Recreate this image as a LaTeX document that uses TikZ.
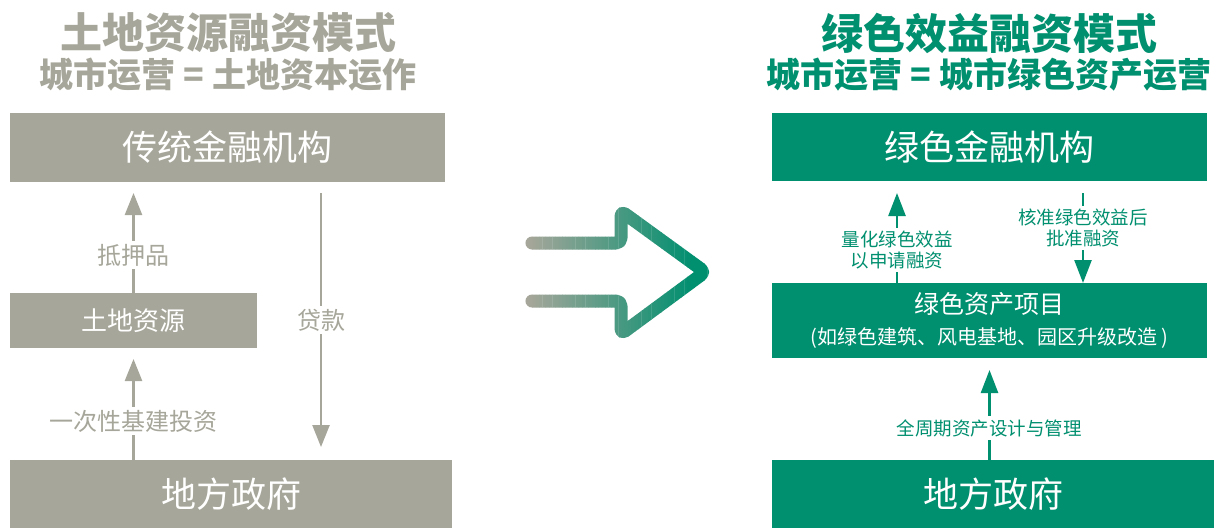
\documentclass[tikz,border=0pt]{standalone}
\usepackage{fontspec}
\setmainfont{Noto Sans CJK SC}
\usetikzlibrary{arrows.meta}
\definecolor{ggray}{RGB}{167,166,154}
\definecolor{ggreen}{RGB}{0,143,111}
\tikzset{
  boxbase/.style={inner sep=0pt, outer sep=0pt, text=white, align=center},
  graybox/.style={boxbase, fill=ggray},
  greenbox/.style={boxbase, fill=ggreen},
  garr/.style={draw=ggray, line width=2.5pt, -{Triangle[width=17pt,length=22pt]}},
  earr/.style={draw=ggreen, line width=2.5pt, -{Triangle[width=17pt,length=23pt]}},
  glabel/.style={fill=white, text=ggray, inner sep=3pt, font=\fontsize{24}{28}\selectfont},
  elabel/.style={fill=white, text=ggreen, inner sep=3pt, align=center, font=\fontsize{18.5}{21.5}\selectfont},
  bigarrow/.style={line width=13pt, line cap=round, line join=round, rounded corners=5pt},
}
\begin{document}
\begin{tikzpicture}[x=1pt, y=-1pt]
\useasboundingbox (0,0) rectangle (1216,528);

% ---------- left side ----------
\node[text=ggray, font=\fontsize{42}{48}\bfseries] (lt) at (228,33) {土地资源融资模式};
\node[text=ggray, font=\fontsize{34}{40}\bfseries] (ls) at (228,75) {城市运营 = 土地资本运作};

\node[graybox, minimum width=435pt, minimum height=69pt, font=\fontsize{35}{40}\selectfont] (tf) at (227.5,147.5) {传统金融机构};
\node[graybox, minimum width=247pt, minimum height=55pt, font=\fontsize{26}{30}\selectfont] (land) at (133.5,320.5) {土地资源};
\node[graybox, minimum width=442pt, minimum height=68pt, font=\fontsize{35}{40}\selectfont] (lgov) at (231,494) {地方政府};

\coordinate (dk) at (321,0);
\draw[garr, shorten >=11pt] (land.north) -- (tf.south -| land.north);
\draw[garr, shorten >=11pt] (lgov.north -| land.south) -- (land.south);
\draw[garr, shorten <=11pt, shorten >=13pt] (tf.south -| dk) -- (lgov.north -| dk);

\node[glabel] (l1) at (133,255) {抵押品};
\node[glabel] (l2) at (133,421) {一次性基建投资};
\node[glabel] (l3) at (321,320) {贷款};

% ---------- big arrow ----------
\foreach \i in {0,...,59}{
  \pgfmathsetmacro{\xa}{516+\i*3.3}
  \pgfmathsetmacro{\xb}{\xa+3.6}
  \pgfmathtruncatemacro{\p}{min(100,max(0,(\i-3)*100/50))}
  \begin{scope}
    \clip (\xa,190) rectangle (\xb,350);
    \draw[bigarrow, draw=ggreen!\p!ggray]
      (532,243) -- (621,243) -- (621,211) -- (705,272) -- (621,334) -- (621,301) -- (532,301);
  \end{scope}
}

% ---------- right side ----------
\node[text=ggreen, font=\fontsize{42}{48}\bfseries] (rt) at (989,33) {绿色效益融资模式};
\node[text=ggreen, font=\fontsize{34}{40}\bfseries] (rs) at (989,75) {城市运营 = 城市绿色资产运营};

\node[greenbox, minimum width=435pt, minimum height=68pt, font=\fontsize{35}{40}\selectfont] (gf) at (989.5,147) {绿色金融机构};
\node[greenbox, minimum width=435pt, minimum height=75pt, font=\fontsize{20}{31}\selectfont] (gp) at (989.5,320.5)
  {{\fontsize{25}{31}\selectfont 绿色资产项目}\\(如绿色建筑、风电基地、园区升级改造 )};
\node[greenbox, minimum width=442pt, minimum height=68pt, font=\fontsize{35}{40}\selectfont] (rgov) at (993,494) {地方政府};

\coordinate (ua) at (897,0);
\coordinate (da) at (1083,0);
\draw[earr, shorten >=12pt] (gp.north -| ua) -- (gf.south -| ua);
\draw[earr, shorten <=12pt] (gf.south -| da) -- (gp.north -| da);
\draw[earr, shorten >=12pt] (rgov.north -| gp.south) -- (gp.south);

\node[elabel] (r1) at (897,250) {量化绿色效益\\以申请融资};
\node[elabel] (r2) at (1083,228) {核准绿色效益后\\批准融资};
\node[elabel] (r3) at (989,428) {全周期资产设计与管理};
\end{tikzpicture}
\end{document}
